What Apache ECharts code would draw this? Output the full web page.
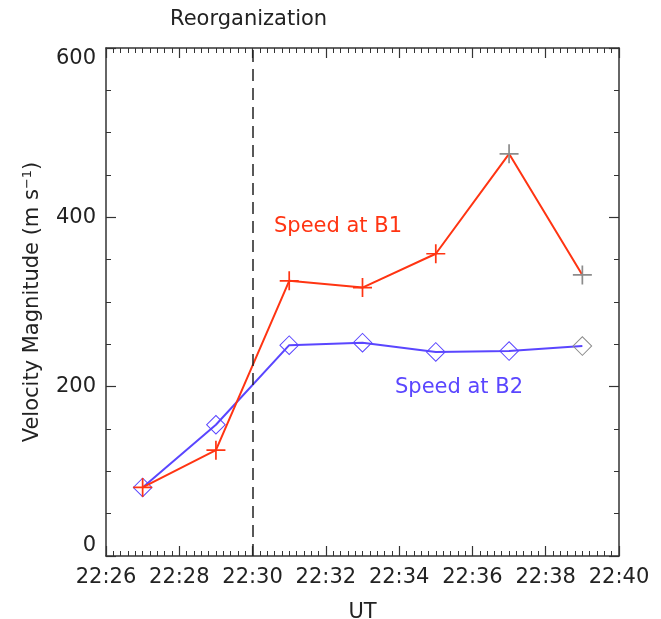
<!DOCTYPE html>
<html>
<head>
<meta charset="utf-8">
<script src="https://cdn.jsdelivr.net/npm/echarts@6.0.0/dist/echarts.min.js"></script>
<style>
  html, body { margin: 0; padding: 0; background: #fff; }
  #chart { width: 661px; height: 619px; }
</style>
</head>
<body>
<div id="chart"></div>
<script>
// times in UT (22:mm), speeds in m/s
const times = ['22:27', '22:29', '22:31', '22:33', '22:35', '22:37', '22:39'];
const speedB1 = [81, 125, 325, 317, 357, 475, 332];
const speedB2 = [81, 155, 249, 252, 241, 242, 248];
const xTicks = [26, 28, 30, 32, 34, 36, 38, 40];
const eventTime = 30;

const RED = '#ff3412';
const BLUE = '#5a46ff';
const GREY = '#8c8c8c';
const FONT = 'DejaVu Sans';
const FS = 21;

const toMin = t => parseInt(t.split(':')[1], 10);
// IDL left the last few symbols grey
const greyB1 = [5, 6];
const greyB2 = [6];

const plusPath = 'path://M9.1,0h1.8v9.1h9.1v1.8h-9.1v9.1h-1.8v-9.1h-9.1v-1.8h9.1z';
// hollow diamond: outer clockwise, inner counter-clockwise
const diamondPath = 'path://M10,0L20,10L10,20L0,10Z M10,1.4L1.4,10L10,18.6L18.6,10Z';

const b1Data = times.map((t, i) => ({
  value: [toMin(t), speedB1[i]],
  itemStyle: { color: greyB1.includes(i) ? GREY : RED }
}));
const b2Data = times.map((t, i) => ({
  value: [toMin(t), speedB2[i]],
  itemStyle: { color: greyB2.includes(i) ? GREY : BLUE }
}));

const chart = echarts.init(document.getElementById('chart'));

const axisLine = { show: true, onZero: false, lineStyle: { color: '#333', width: 1.5 } };
const tick = { inside: true, length: 10, lineStyle: { color: '#333', width: 1.2 } };

chart.setOption({
  backgroundColor: '#fff',
  animation: false,
  grid: { left: 106, right: 42, top: 48, bottom: 63, containLabel: false, outerBoundsMode: 'none' },
  xAxis: [{
    type: 'value', min: 26, max: 40, interval: 2,
    name: 'UT', nameLocation: 'middle', nameGap: 46,
    nameTextStyle: { fontFamily: FONT, fontSize: FS, color: '#222' },
    axisLine: axisLine, axisTick: tick,
    minorTick: { show: true, splitNumber: 10, length: 5, lineStyle: { color: '#333', width: 1 } },
    axisLabel: {
      margin: 11, fontFamily: FONT, fontSize: FS, color: '#222',
      formatter: v => xTicks.includes(v) ? '22:' + String(v).padStart(2, '0') : ''
    },
    splitLine: { show: false }
  }, {
    type: 'value', position: 'top', min: 26, max: 40, interval: 2,
    axisLine: axisLine, axisTick: tick,
    minorTick: { show: true, splitNumber: 10, length: 5, lineStyle: { color: '#333', width: 1 } },
    axisLabel: { show: false },
    splitLine: { show: false }
  }],
  yAxis: [{
    type: 'value', min: 0, max: 600, interval: 200,
    name: 'Velocity Magnitude (m s{sup|−1})', nameLocation: 'middle', nameGap: 62,
    nameTextStyle: {
      fontFamily: FONT, fontSize: FS, color: '#222',
      rich: { sup: { fontFamily: FONT, fontSize: 13, color: '#222', verticalAlign: 'top', padding: [0, 0, 10, 0] } }
    },
    axisLine: axisLine, axisTick: tick,
    minorTick: { show: true, splitNumber: 4, length: 5, lineStyle: { color: '#333', width: 1 } },
    axisLabel: {
      margin: 10, fontFamily: FONT, fontSize: FS, color: '#222',
      verticalAlignMinLabel: 'bottom', verticalAlignMaxLabel: 'top'
    },
    splitLine: { show: false }
  }, {
    type: 'value', position: 'right', min: 0, max: 600, interval: 200,
    axisLine: axisLine, axisTick: tick,
    minorTick: { show: true, splitNumber: 4, length: 5, lineStyle: { color: '#333', width: 1 } },
    axisLabel: { show: false },
    splitLine: { show: false }
  }],
  series: [{
    name: 'Speed at B1', type: 'line',
    data: b1Data,
    symbol: plusPath, symbolSize: 19,
    lineStyle: { color: RED, width: 2 },
    itemStyle: { color: RED },
    z: 3,
    markLine: {
      silent: true, symbol: 'none', label: { show: false },
      lineStyle: { color: '#222', type: [12, 7], width: 1.5 },
      data: [{ xAxis: eventTime }]
    }
  }, {
    name: 'Speed at B2', type: 'line',
    data: b2Data,
    symbol: diamondPath, symbolSize: 20,
    lineStyle: { color: BLUE, width: 2 },
    itemStyle: { color: BLUE },
    z: 2
  }],
  graphic: [{
    type: 'text', left: 170, top: 9,
    style: { text: 'Reorganization', fontFamily: FONT, fontSize: FS, fill: '#222' }
  }, {
    type: 'text', left: 274, top: 216,
    style: { text: 'Speed at B1', fontFamily: FONT, fontSize: FS, fill: RED }
  }, {
    type: 'text', left: 395, top: 377,
    style: { text: 'Speed at B2', fontFamily: FONT, fontSize: FS, fill: BLUE }
  }]
});
</script>
</body>
</html>
